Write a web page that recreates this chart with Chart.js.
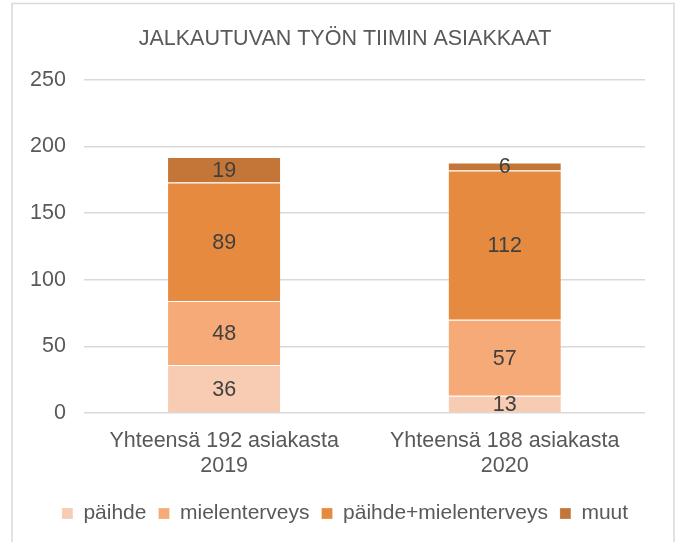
<!DOCTYPE html>
<html>
<head>
<meta charset="utf-8">
<script src="https://cdn.jsdelivr.net/npm/chart.js@4"></script>
<style>
  html, body { margin: 0; padding: 0; background: #fff; }
  #wrap { position: absolute; left: 0; top: 0; width: 684px; height: 542px; }
</style>
</head>
<body>
<div id="wrap"><canvas id="chart" width="684" height="542"></canvas></div>
<script>
// Data
const categories = [['Yhteensä 192 asiakasta', '2019'], ['Yhteensä 188 asiakasta', '2020']];
const seriesNames = ['päihde', 'mielenterveys', 'päihde+mielenterveys', 'muut'];
const paihde = [36, 13];
const mielenterveys = [48, 57];
const paihdeMielenterveys = [89, 112];
const muut = [19, 6];
const yTicks = [0, 50, 100, 150, 200, 250];

const colors = ['#F8CBB3', '#F6AA78', '#E68A40', '#C47538'];
const textColor = '#595959';
const fontFamily = '"Liberation Sans", Arial, sans-serif';

// Kehys kaavion ympärille
const framePlugin = {
    id: 'frame',
    beforeDraw(chart) {
        const c = chart.ctx;
        c.save();
        c.strokeStyle = '#d9d9d9';
        c.lineWidth = 1.5;
        c.strokeRect(12, 3.5, 662, 560);
        c.restore();
    }
};

// Otsikko ja selite keskelle kehystä, ei piirtoalueen mukaan
const centerBlocks = {
    id: 'centerBlocks',
    afterLayout(chart) {
        [chart.titleBlock, chart.legend].forEach(b => {
            if (!b) return;
            b.left += 16.5;
            b.right += 16.5;
        });
    }
};

// Arvot palkkien keskelle
const valueLabels = {
    id: 'valueLabels',
    afterDatasetsDraw(chart) {
        const c = chart.ctx;
        c.save();
        c.font = '21.5px ' + fontFamily;
        c.fillStyle = '#404040';
        c.textAlign = 'center';
        c.textBaseline = 'middle';
        chart.data.datasets.forEach((ds, i) => {
            chart.getDatasetMeta(i).data.forEach((bar, j) => {
                const y = (bar.y + bar.base) / 2;
                c.fillText(String(ds.data[j]), bar.x, y + 1);
            });
        });
        c.restore();
    }
};

const ctx = document.getElementById('chart').getContext('2d');
new Chart(ctx, {
    type: 'bar',
    data: {
        labels: categories,
        datasets: [
            { label: seriesNames[0], data: paihde, backgroundColor: colors[0] },
            { label: seriesNames[1], data: mielenterveys, backgroundColor: colors[1] },
            { label: seriesNames[2], data: paihdeMielenterveys, backgroundColor: colors[2] },
            { label: seriesNames[3], data: muut, backgroundColor: colors[3] }
        ].map(d => Object.assign(d, {
            borderColor: '#ffffff',
            borderWidth: { top: 1 },
            borderSkipped: 'bottom',
            categoryPercentage: 1,
            barPercentage: 0.4
        }))
    },
    options: {
        responsive: false,
        animation: false,
        devicePixelRatio: 1,
        layout: { padding: { left: 12, right: 39, top: 0, bottom: 8 } },
        scales: {
            x: {
                stacked: true,
                grid: { display: false },
                border: { display: false },
                afterFit(scale) {
                    scale.height += 4; // väliä selitteeseen
                },
                ticks: {
                    color: textColor,
                    font: { family: fontFamily, size: 21.5, lineHeight: 1.163 },
                    maxRotation: 0,
                    padding: 8
                }
            },
            y: {
                stacked: true,
                min: 0,
                max: 250,
                afterBuildTicks(scale) {
                    scale.ticks = yTicks.map(v => ({ value: v }));
                },
                grid: { color: '#d9d9d9', lineWidth: 1.5, drawTicks: false },
                border: { display: false },
                ticks: {
                    color: textColor,
                    font: { family: fontFamily, size: 21.5 },
                    padding: 18
                }
            }
        },
        plugins: {
            title: {
                display: true,
                text: 'JALKAUTUVAN TYÖN TIIMIN ASIAKKAAT',
                color: textColor,
                font: { family: fontFamily, size: 21.5, weight: 'normal' },
                padding: { top: 26, bottom: 28 }
            },
            legend: {
                position: 'bottom',
                labels: {
                    color: textColor,
                    font: { family: fontFamily, size: 21 },
                    boxWidth: 11,
                    boxHeight: 11,
                    padding: 12
                }
            },
            tooltip: { enabled: false }
        }
    },
    plugins: [framePlugin, centerBlocks, valueLabels]
});
</script>
</body>
</html>
